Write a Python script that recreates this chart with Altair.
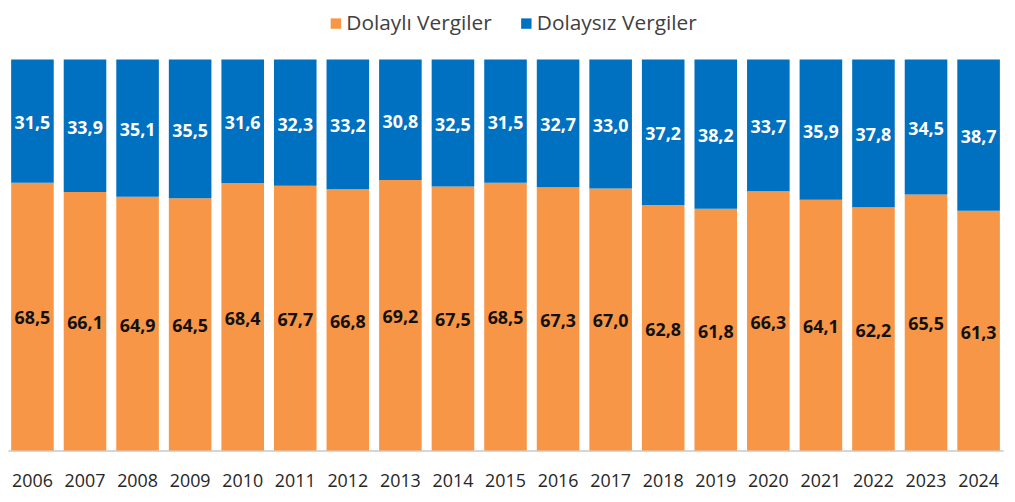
import altair as alt
import pandas as pd

years = [str(y) for y in range(2006, 2025)]
dolayli = [68.5, 66.1, 64.9, 64.5, 68.4, 67.7, 66.8, 69.2, 67.5, 68.5, 67.3, 67.0, 62.8, 61.8, 66.3, 64.1, 62.2, 65.5, 61.3]
dolaysiz = [31.5, 33.9, 35.1, 35.5, 31.6, 32.3, 33.2, 30.8, 32.5, 31.5, 32.7, 33.0, 37.2, 38.2, 33.7, 35.9, 37.8, 34.5, 38.7]
series_names = ["Dolaylı Vergiler", "Dolaysız Vergiler"]
colors = ["#F79646", "#0070C0"]

rows = []
for i, y in enumerate(years):
    rows.append({"year": y, "series": series_names[0], "ord": 0, "value": dolayli[i]})
    rows.append({"year": y, "series": series_names[1], "ord": 1, "value": dolaysiz[i]})
df = pd.DataFrame(rows)

FONT = "Open Sans"

base = alt.Chart(df).transform_stack(
    stack="value", groupby=["year"], as_=["v0", "v1"], sort=[alt.SortField("ord")]
).transform_calculate(
    mid="(datum.v0 + datum.v1) / 2",
    label="replace(format(datum.value, '.1f'), '.', ',')",
)

xenc = alt.X(
    "year:N",
    sort=years,
    scale=alt.Scale(paddingInner=0.19, paddingOuter=0.06),
    axis=alt.Axis(
        title=None, ticks=False, labelAngle=0, labelFont=FONT, labelFontSize=18,
        labelColor="#262626", labelPadding=22, domainColor="#c8c8c8", domainWidth=1.5,
    ),
)
yscale = alt.Scale(domain=[0, 100], nice=False)

bars = base.mark_bar().encode(
    x=xenc,
    y=alt.Y("v0:Q", scale=yscale, axis=None),
    y2="v1:Q",
    color=alt.Color(
        "series:N",
        scale=alt.Scale(domain=series_names, range=colors),
        legend=alt.Legend(
            title=None, orient="none", direction="horizontal", legendX=320, legendY=-47,
            symbolType="square", symbolSize=110, symbolStrokeWidth=0,
            labelFont=FONT, labelFontSize=21, labelColor="#404040", labelLimit=300,
            labelOffset=0, columnPadding=24, symbolOffset=0,
        ),
    ),
)

texts = base.mark_text(font=FONT, fontSize=18, fontWeight="bold", dy=3).encode(
    x=alt.X("year:N", sort=years),
    y=alt.Y("mid:Q", scale=yscale),
    text="label:N",
    color=alt.condition(alt.datum.ord == 1, alt.value("#ffffff"), alt.value("#111111")),
)

chart = alt.layer(bars, texts).properties(
    width=1003, height=394,
    autosize=alt.AutoSizeParams(type="none"),
    padding={"left": 0, "top": 50, "right": 4, "bottom": 42},
).configure_view(stroke=None)

chart.save("out.html", embed_options={"renderer": "svg", "actions": False})
